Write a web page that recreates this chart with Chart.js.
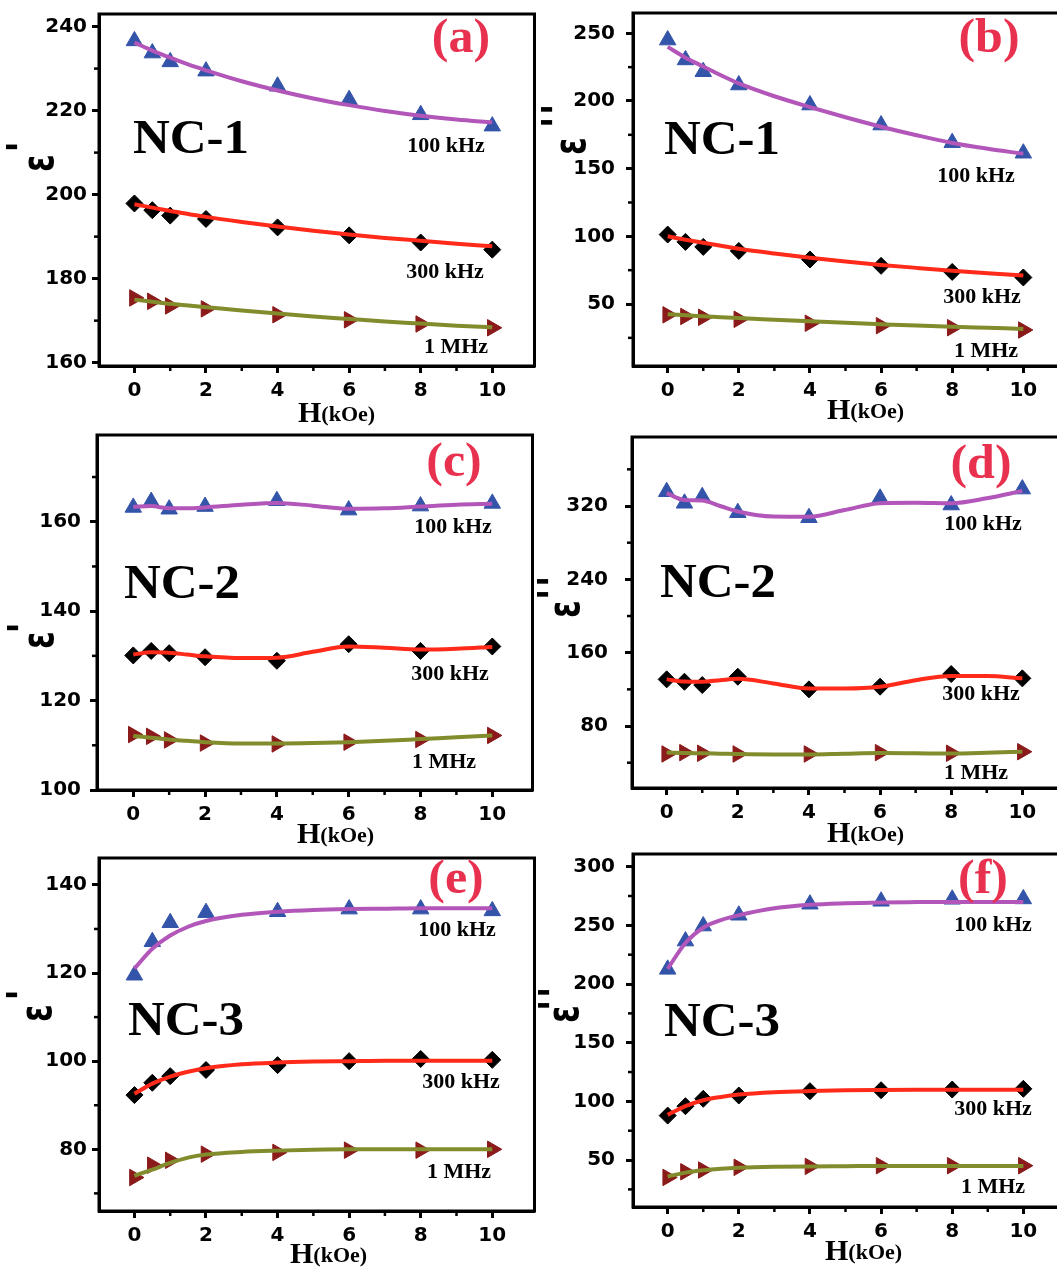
<!DOCTYPE html>
<html>
<head>
<meta charset="utf-8">
<script src="https://cdn.jsdelivr.net/npm/chart.js@4/dist/chart.umd.min.js"></script>
<style>
html,body{margin:0;padding:0;overflow:hidden;background:#fff;width:1057px;height:1269px;position:relative;}
canvas{position:absolute;}
</style>
</head>
<body>
<canvas id="ca"></canvas>
<canvas id="cb"></canvas>
<canvas id="cc"></canvas>
<canvas id="cd"></canvas>
<canvas id="ce"></canvas>
<canvas id="cf"></canvas>
<script>
// ---------- data ----------
const H = [0, 0.5, 1, 2, 4, 6, 8, 10];
const fitH = [0, 0.5, 1, 1.5, 2, 3, 4, 5, 6, 7, 8, 9, 10];
const seriesNames = ['100 kHz', '300 kHz', '1 MHz'];
const xTicks = [0, 2, 4, 6, 8, 10];
const xMinorTicks = [1, 3, 5, 7, 9];
const panelLetters = ['(a)', '(b)', '(c)', '(d)', '(e)', '(f)'];
const sampleNames = ['NC-1', 'NC-1', 'NC-2', 'NC-2', 'NC-3', 'NC-3'];
const yTitles = ["ε'", "ε''", "ε'", "ε''", "ε'", "ε''"];

// (a) NC-1, ε'
const a100 = [236.6, 233.7, 231.6, 229.4, 225.8, 222.6, 219.0, 216.3];
const a300 = [197.9, 196.3, 195.0, 194.2, 192.2, 190.3, 188.6, 186.9];
const a1M  = [175.4, 174.6, 173.5, 172.8, 171.4, 170.2, 169.2, 168.3];
const a100Fit = [236.2, 234.3, 232.6, 231.0, 229.6, 227.0, 224.8, 222.9, 221.3, 219.9, 218.8, 217.9, 217.2];
const a300Fit = [197.7, 196.9, 196.1, 195.4, 194.7, 193.5, 192.4, 191.4, 190.5, 189.7, 189.0, 188.3, 187.7];
const a1MFit  = [175.0, 174.5, 174.0, 173.6, 173.2, 172.4, 171.7, 171.0, 170.4, 169.8, 169.3, 168.8, 168.4];
const aYTicks = [160, 180, 200, 220, 240];
const aYMinor = [170, 190, 210, 230];

// (b) NC-1, ε''
const b100 = [245.0, 230.3, 221.6, 211.8, 197.0, 182.2, 169.2, 161.4];
const b300 = [101.3, 95.9, 92.2, 89.2, 82.9, 78.2, 73.7, 69.6];
const b1M  = [42.0, 40.8, 40.2, 38.7, 35.8, 34.0, 32.5, 30.8];
const b100Fit = [240.0, 232.0, 225.5, 219.0, 213.0, 203.5, 195.5, 188.0, 181.0, 174.7, 169.0, 164.7, 161.0];
const b300Fit = [100.0, 97.5, 95.2, 93.0, 90.8, 87.3, 84.2, 81.4, 78.9, 76.7, 74.6, 72.7, 71.0];
const b1MFit  = [42.5, 41.7, 41.0, 40.3, 39.6, 38.4, 37.2, 36.1, 35.1, 34.1, 33.2, 32.4, 31.6];
const bYTicks = [50, 100, 150, 200, 250];
const bYMinor = [25, 75, 125, 175, 225];

// (c) NC-2, ε'
const c100 = [163.2, 164.5, 162.8, 163.4, 164.7, 162.6, 163.5, 164.1];
const c300 = [130.1, 131.1, 130.6, 129.7, 128.9, 132.6, 131.1, 132.1];
const c1M  = [112.4, 112.0, 111.2, 110.5, 110.3, 110.7, 111.3, 112.2];
const c100Fit = [163.3, 163.5, 163.0, 163.0, 163.2, 163.8, 164.2, 163.6, 162.9, 163.0, 163.4, 163.8, 164.0];
const c300Fit = [130.3, 130.8, 130.7, 130.3, 129.9, 129.5, 129.6, 130.9, 132.1, 131.8, 131.4, 131.6, 132.0];
const c1MFit  = [112.1, 111.7, 111.3, 111.0, 110.7, 110.4, 110.4, 110.5, 110.7, 111.0, 111.4, 111.8, 112.2];
const cYTicks = [100, 120, 140, 160];
const cYMinor = [110, 130, 150, 170];

// (d) NC-2, ε''
const d100 = [335.6, 323.0, 330.1, 312.7, 307.2, 328.4, 321.1, 338.5];
const d300 = [130.9, 128.3, 124.7, 133.8, 120.0, 122.9, 136.7, 132.0];
const d1M  = [49.5, 51.0, 50.3, 49.5, 49.5, 51.0, 50.3, 52.0];
const d100Fit = [334.0, 326.5, 326.0, 320.0, 314.0, 308.5, 308.3, 315.6, 323.0, 323.5, 323.0, 328.4, 336.5];
const d300Fit = [130.9, 128.6, 128.4, 130.0, 131.5, 126.5, 121.0, 121.0, 122.9, 130.0, 134.5, 134.5, 132.0];
const d1MFit  = [51.0, 50.5, 50.2, 49.8, 49.4, 49.0, 49.0, 49.8, 50.5, 50.3, 50.0, 50.8, 52.0];
const dYTicks = [80, 160, 240, 320];
const dYMinor = [40, 120, 200, 280, 360];

// (e) NC-3, ε'
const e100 = [119.5, 127.1, 131.4, 133.7, 133.9, 134.5, 134.5, 134.1];
const e300 = [92.3, 95.1, 96.6, 98.0, 99.1, 100.0, 100.5, 100.3];
const e1M  = [73.6, 76.4, 77.5, 78.9, 79.3, 79.8, 79.8, 80.0];
const e100Fit = [121.0, 125.5, 128.5, 130.5, 131.8, 133.2, 133.9, 134.3, 134.5, 134.6, 134.7, 134.7, 134.7];
const e300Fit = [92.6, 94.9, 96.5, 97.6, 98.4, 99.3, 99.7, 99.9, 100.0, 100.1, 100.1, 100.1, 100.1];
const e1MFit  = [74.0, 75.4, 76.9, 78.1, 78.8, 79.4, 79.7, 79.9, 80.0, 80.0, 80.0, 80.0, 80.0];
const eYTicks = [80, 100, 120, 140];
const eYMinor = [70, 90, 110, 130];

// (f) NC-3, ε''
const f100 = [212.5, 236.6, 249.4, 258.6, 268.0, 270.5, 272.2, 272.5];
const f300 = [87.9, 95.9, 102.2, 105.0, 108.7, 109.5, 110.1, 110.7];
const f1M  = [35.2, 40.0, 41.5, 43.8, 44.6, 45.2, 45.2, 45.2];
const f100Fit = [213.0, 235.0, 248.0, 254.5, 258.6, 264.5, 267.5, 268.8, 269.5, 269.8, 270.0, 270.0, 270.0];
const f300Fit = [88.5, 96.0, 101.0, 103.8, 105.8, 107.8, 108.8, 109.4, 109.7, 109.9, 110.0, 110.0, 110.0];
const f1MFit  = [36.0, 39.3, 41.3, 42.6, 43.4, 44.2, 44.6, 44.8, 45.0, 45.0, 45.0, 45.0, 45.0];
const fYTicks = [50, 100, 150, 200, 250, 300];
const fYMinor = [25, 75, 125, 175, 225, 275];

// ---------- layout / style (not data) ----------
const YW = 99, PT = 40, XH = 60, PR = 10, CW = 436;
const L = {
  a: {left: 99,  top: 14,  h: 352, xr: [-0.99, 11.18], yr: [159.2, 243.0], ypad: 5,  letter: [362, 38], name: [34, 139], lab: [[347,138],[346,264],[357,339]], eps: [-58,149], prime: [-83,133], xt: [199,56]},
  b: {left: 633, top: 13,  h: 353, xr: [-0.975, 11.27], yr: [4.2, 265.0], ypad: 11, letter: [356, 39], name: [31, 141], lab: [[343,169],[349,290],[353,344]], eps: [-60,133], prime: [-82,103], xt: [194,53]},
  c: {left: 97,  top: 435, h: 355, xr: [-1.01, 11.12], yr: [100, 179.4], ypad: 9,  letter: [357, 41], name: [27, 163], lab: [[356,98],[353,245],[347,333]], eps: [-56,205], prime: [-80,193], xt: [200,53]},
  d: {left: 632, top: 437, h: 351, xr: [-0.975, 11.27], yr: [12.4, 395.3], ypad: 17, letter: [349, 41], name: [28, 160], lab: [[351,93],[349,263],[344,342]], eps: [-65,172], prime: [-85,151], xt: [195,54]},
  e: {left: 99,  top: 858, h: 353, xr: [-0.99, 11.18], yr: [66.0, 146.1], ypad: 5,  letter: [357, 35], name: [29, 177], lab: [[358,78],[362,230],[360,320]], eps: [-60,155], prime: [-83,137], xt: [191,52]},
  f: {left: 633, top: 854, h: 353, xr: [-0.975, 11.27], yr: [10.0, 310.8], ypad: 11, letter: [350, 39], name: [31, 182], lab: [[360,77],[360,261],[360,339]], eps: [-67,160], prime: [-85,145], xt: [192,53]}
};

const lineColors = ['#B256BA', '#FF2A1A', '#838C2C'];
const markColors = ['#3354A8', '#000000', '#8B1A1A'];
const serif = '"Liberation Serif", "Times New Roman", serif';

function xy(xs, ys) { return xs.map((x, i) => ({x: x, y: ys[i]})); }

function txt(ctx, s, x, y, font, color, align, sx) {
  ctx.save();
  ctx.translate(x, y);
  ctx.scale(sx || 1, 1);
  ctx.font = font; ctx.fillStyle = color; ctx.textAlign = align; ctx.textBaseline = 'alphabetic';
  ctx.fillText(s, 0, 0);
  ctx.restore();
}
function rot(ctx, s, x, y, font, sy) {
  ctx.save();
  ctx.translate(x, y);
  ctx.rotate(-Math.PI / 2);
  ctx.scale(1, sy || 1);
  ctx.font = font; ctx.fillStyle = '#000'; ctx.textAlign = 'center'; ctx.textBaseline = 'middle';
  ctx.fillText(s, 0, 0);
  ctx.restore();
}

const deco = {
  id: 'deco',
  afterDraw(chart, args, o) {
    const ctx = chart.ctx, ca = chart.chartArea;
    const xs = chart.scales.x, ys = chart.scales.y;
    const g = o.geo;
    ctx.save();
    // minor ticks
    ctx.strokeStyle = '#000'; ctx.lineWidth = 2.5;
    o.xMinor.forEach(v => {
      const px = xs.getPixelForValue(v);
      ctx.beginPath(); ctx.moveTo(px, ca.bottom); ctx.lineTo(px, ca.bottom + 5); ctx.stroke();
    });
    o.yMinor.forEach(v => {
      const py = ys.getPixelForValue(v);
      ctx.beginPath(); ctx.moveTo(ca.left, py); ctx.lineTo(ca.left - 5, py); ctx.stroke();
    });
    // frame
    ctx.lineWidth = 3;
    ctx.strokeRect(ca.left, ca.top, ca.right - ca.left, ca.bottom - ca.top);
    // panel letter
    txt(ctx, o.letter, ca.left + g.letter[0], ca.top + g.letter[1], 'bold 49px ' + serif, '#E8304F', 'center', 1.02);
    // sample name
    txt(ctx, o.name, ca.left + g.name[0], ca.top + g.name[1], 'bold 49px ' + serif, '#000', 'left', 1.04);
    // series labels
    o.series.forEach((s, i) => {
      txt(ctx, s, ca.left + g.lab[i][0], ca.top + g.lab[i][1], 'bold 20px ' + serif, '#000', 'center', 1.1);
    });
    // x title
    const hx = ca.left + g.xt[0], hy = ca.bottom + g.xt[1];
    ctx.font = 'bold 30px ' + serif;
    const hw = ctx.measureText('H').width;
    txt(ctx, 'H', hx, hy, 'bold 30px ' + serif, '#000', 'left', 1);
    txt(ctx, '(kOe)', hx + hw, hy - 1, 'bold 22px ' + serif, '#000', 'left', 1);
    // y title: epsilon + primes
    const eps = o.ytitle.charAt(0), primes = o.ytitle.length - 1;
    rot(ctx, eps, ca.left + g.eps[0], ca.top + g.eps[1], 'bold 32px "DejaVu Sans", sans-serif', 1.4);
    for (let k = 0; k < primes; k++) {
      const off = (k - (primes - 1) / 2) * 13;
      rot(ctx, "'", ca.left + g.prime[0] + 10, ca.top + g.prime[1] + off, 'bold 40px "DejaVu Sans", sans-serif', 1.0);
    }
    ctx.restore();
  }
};

function makeChart(id, key, idx, vals, fits, yTicks, yMinor) {
  const g = L[key];
  const cv = document.getElementById(id);
  const W = YW + CW + PR, Hh = PT + g.h + XH;
  cv.width = W; cv.height = Hh;
  cv.style.width = W + 'px'; cv.style.height = Hh + 'px';
  cv.style.left = (g.left - YW) + 'px'; cv.style.top = (g.top - PT) + 'px';

  const datasets = [];
  fits.forEach((f, i) => datasets.push({
    label: seriesNames[i] + ' fit', data: xy(fitH, f), showLine: true,
    borderColor: lineColors[i], borderWidth: 4, pointRadius: 0, pointHoverRadius: 0,
    cubicInterpolationMode: 'monotone', fill: false, order: 0
  }));
  const styles = [
    {pointStyle: 'triangle', pointRadius: 9.5, rotation: 0},
    {pointStyle: 'rectRot', pointRadius: 8.5, rotation: 0},
    {pointStyle: 'triangle', pointRadius: 9.5, rotation: 90}
  ];
  vals.forEach((v, i) => datasets.push({
    label: seriesNames[i], data: xy(H, v), showLine: false,
    pointStyle: styles[i].pointStyle, pointRadius: styles[i].pointRadius, rotation: styles[i].rotation,
    pointBackgroundColor: markColors[i], pointBorderColor: markColors[i], pointBorderWidth: 1,
    order: 1
  }));

  const tickFont = {family: '"DejaVu Sans", sans-serif', weight: 'bold', size: 20};
  return new Chart(cv, {
    type: 'scatter',
    data: {datasets: datasets},
    options: {
      responsive: false, animation: false, devicePixelRatio: 1,
      layout: {padding: {top: PT, right: PR, bottom: 0, left: 0}},
      plugins: {
        legend: {display: false}, tooltip: {enabled: false},
        deco: {geo: g, xMinor: xMinorTicks, yMinor: yMinor, letter: panelLetters[idx], name: sampleNames[idx], series: seriesNames, ytitle: yTitles[idx]}
      },
      scales: {
        x: {
          type: 'linear', min: g.xr[0], max: g.xr[1],
          afterBuildTicks: s => { s.ticks = xTicks.map(v => ({value: v})); },
          afterFit: s => { s.height = XH; },
          ticks: {font: tickFont, color: '#000', padding: 6, maxRotation: 0, autoSkip: false},
          grid: {drawOnChartArea: false, drawTicks: true, tickLength: 7, tickWidth: 3, tickColor: '#000'},
          border: {display: true, color: '#000', width: 3}
        },
        y: {
          type: 'linear', min: g.yr[0], max: g.yr[1],
          afterBuildTicks: s => { s.ticks = yTicks.map(v => ({value: v})); },
          afterFit: s => { s.width = YW; },
          ticks: {font: tickFont, color: '#000', padding: g.ypad, autoSkip: false},
          grid: {drawOnChartArea: false, drawTicks: true, tickLength: 7, tickWidth: 3, tickColor: '#000'},
          border: {display: true, color: '#000', width: 3}
        }
      }
    },
    plugins: [deco]
  });
}

makeChart('ca', 'a', 0, [a100, a300, a1M], [a100Fit, a300Fit, a1MFit], aYTicks, aYMinor);
makeChart('cb', 'b', 1, [b100, b300, b1M], [b100Fit, b300Fit, b1MFit], bYTicks, bYMinor);
makeChart('cc', 'c', 2, [c100, c300, c1M], [c100Fit, c300Fit, c1MFit], cYTicks, cYMinor);
makeChart('cd', 'd', 3, [d100, d300, d1M], [d100Fit, d300Fit, d1MFit], dYTicks, dYMinor);
makeChart('ce', 'e', 4, [e100, e300, e1M], [e100Fit, e300Fit, e1MFit], eYTicks, eYMinor);
makeChart('cf', 'f', 5, [f100, f300, f1M], [f100Fit, f300Fit, f1MFit], fYTicks, fYMinor);
</script>
</body>
</html>
